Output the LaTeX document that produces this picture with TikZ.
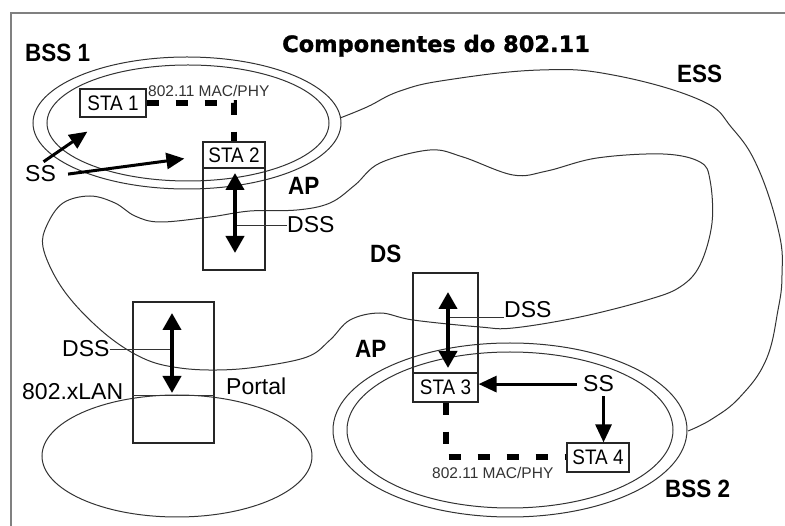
\documentclass[tikz,border=0pt]{standalone}
\usepackage{fontspec}
\setmainfont{Liberation Sans}
\newfontfamily\cnd[FakeStretch=0.9]{Liberation Sans}
\newfontfamily\ttl[FakeBold=1.3]{DejaVu Sans Bold}
\usetikzlibrary{arrows.meta}
\tikzset{sta/.style={draw=black!85,line width=1.2pt,inner sep=0,minimum width=64pt,minimum height=28pt,font=\cnd\fontsize{21}{21}\selectfont},
 box/.style={draw=black!85,line width=1.2pt,inner sep=0},
 lbl/.style={inner sep=0,anchor=base west,font=\fontsize{23}{23}\selectfont},
 bl/.style={inner sep=0,anchor=base west,font=\cnd\bfseries\fontsize{25}{25}\selectfont},
 mac/.style={inner sep=0,anchor=base west,font=\fontsize{15.5}{15.5}\selectfont,text=black!80},
 dbl/.style={{Triangle[width=18pt,length=17pt]}-{Triangle[width=18pt,length=17pt]},line width=4pt},
 ss/.style={-{Triangle[width=16pt,length=18pt]},line width=3pt},
 ln/.style={draw=black!80,line width=1pt},dsh/.style={line width=6pt,dash pattern=on 12pt off 17pt}}
\begin{document}
\begin{tikzpicture}[x=1pt,y=-1pt]
\useasboundingbox (0,0) rectangle (785,526);
\draw[gray,line width=2pt] (11,526)--(11,13)--(785,13);
\node[inner sep=0,anchor=base west,font=\ttl\fontsize{22.5}{22.5}\selectfont] (title) at (282,52){Componentes do 802.11};
\draw[ln] (187,123) ellipse [x radius=154,y radius=66];\draw[ln] (188,123) ellipse [x radius=141,y radius=58];
\draw[ln] (510,430) ellipse [x radius=177,y radius=87];\draw[ln] (510,430) ellipse [x radius=163,y radius=78];
\draw[ln] (177,456) ellipse [x radius=135,y radius=61];
\draw[ln] plot[smooth,tension=.7] coordinates {(340,118)(367,107)(400,91)(447,80)(540,70)(613,75)(700,100)(732,128)(758,168)(779,233)(782,275)(778,310)(766,360)(740,397)(712,419)(688,431)};
\draw[ln] plot[smooth cycle,tension=.6] coordinates {(47,225)(63,203)(90,196)(115,203)(135,216)(160,222)(210,217)(250,211)(297,210)(330,203)(355,185)(380,163)(430,150)(463,157)(513,175)(547,171)(597,158)(663,154)(700,162)(710,180)(712,223)(700,265)(680,287)(647,300)(580,317)(513,328)(480,327)(413,320)(380,313)(350,320)(330,340)(307,357)(257,367)(217,370)(180,368)(147,360)(113,340)(80,310)(57,280)(43,247)};
\node[sta,minimum width=66pt] (sta1) at (113,103){STA 1};\node[sta,minimum width=62pt,minimum height=26pt] (sta2) at (234,155){STA 2};
\node[box,minimum width=62pt,minimum height=102pt] (apx1) at (234,219){};
\node[box,minimum width=65pt,minimum height=100pt] (apx2) at (445.5,323){};
\node[sta,minimum width=65pt,minimum height=29pt] (sta3) at (445.5,387.5){STA 3};
\node[sta,minimum width=62pt,minimum height=29pt] (sta4) at (598,457.5){STA 4};
\node[box,minimum width=81pt,minimum height=141pt] (portal) at (173.5,372.5){};
\draw[ln] ([yshift=-23.5pt]portal.west)--([yshift=-23.5pt]portal.east);
\draw[dsh] (sta1.east) -| (sta2.north);\draw[dsh] (sta3.south) |- (sta4.west);
\node[mac] (mac1) at (148,97){802.11 MAC/PHY};\node[mac] (mac2) at (432,479){802.11 MAC/PHY};
\node[bl] (lbss1) at (25,62){BSS 1};\node[bl] (less) at (677,83){ESS};\node[bl] (lbss2) at (665,497){BSS 2};
\node[bl] (lap1) at (288,195){AP};\node[bl] (lds) at (370,263){DS};\node[bl] (lap2) at (355,358){AP};
\node[lbl] (ss1) at (25,182){SS};\node[lbl] (ss2) at (583,392){SS};
\node[lbl] (dss1) at (287,233){DSS};\node[lbl] (dss2) at (504,318){DSS};\node[lbl] (dss3) at (62,357){DSS};
\node[lbl] (llan) at (22,400){802.xLAN};\node[lbl] (lportal) at (226,395){Portal};
\coordinate (a1t) at (235,173);\coordinate (a1b) at (235,253);
\coordinate (a2t) at (448,292);\coordinate (a2b) at (448,368);
\coordinate (a3t) at (172,313);\coordinate (a3b) at (172,393);
\draw[ln] (dss1.west)--(dss1.west -| a1t);\draw[ln] ([yshift=1pt]dss2.south west)--([yshift=1pt]dss2.south west -| a2t);
\draw[ln] (dss3.east)--(dss3.east -| a3t);
\draw[dbl] (a1t)--(a1b);\draw[dbl] (a2t)--(a2b);\draw[dbl] (a3t)--(a3b);
\draw[ss] ([xshift=3pt,yshift=4pt]ss1.north)--([xshift=8pt,yshift=-14pt]sta1.south west);
\draw[ss] ([xshift=12pt]ss1.east)--([xshift=-18pt,yshift=10pt]sta2.south west);
\draw[ss] ([xshift=-6pt]ss2.west)--(ss2.west -| sta3.east);
\coordinate (s4) at ([xshift=5pt,yshift=-4pt]ss2.south);\draw[ss] (s4)--(s4 |- sta4.north);
\end{tikzpicture}
\end{document}
